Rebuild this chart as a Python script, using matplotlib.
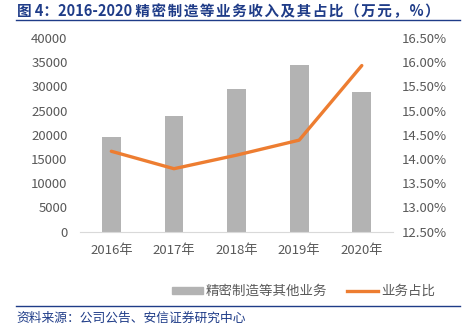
import matplotlib
matplotlib.use("Agg")
import matplotlib.pyplot as plt
import matplotlib.ticker as mtick
from matplotlib.lines import Line2D

plt.rcParams['font.family'] = ['Noto Sans CJK SC', 'DejaVu Sans']

years = ["2016年", "2017年", "2018年", "2019年", "2020年"]
revenue = [19600, 23900, 29400, 34400, 28800]
share = [14.16, 13.80, 14.08, 14.39, 15.93]

grey = "#B3B3B3"
orange = "#ED7D31"
tickc = "#595959"
blue = "#1F3C88"

fig = plt.figure(figsize=(4.68, 3.30), dpi=100)
ax = fig.add_axes([0.171, 0.298, 0.669, 0.587])
ax2 = ax.twinx()

x = range(len(years))
bars = ax.bar(x, revenue, width=0.30, color=grey, zorder=2)
ax.set_xlim(-0.5, len(years) - 0.5)
ax.set_ylim(0, 40000)
ax.set_yticks(range(0, 40001, 5000))
ax.set_xticks(list(x))
ax.set_xticklabels(years)

ax2.plot(list(x), share, color=orange, linewidth=2.4, solid_capstyle='round', zorder=3)
ax2.set_ylim(12.5, 16.5)
ax2.set_yticks([12.5 + 0.5 * i for i in range(9)])
ax2.yaxis.set_major_formatter(mtick.FuncFormatter(lambda v, p: "%.2f%%" % v))

for a in (ax, ax2):
    for s in a.spines.values():
        s.set_visible(False)
    a.tick_params(length=0, labelsize=9.5, colors=tickc)
ax.spines['bottom'].set_visible(True)
ax.spines['bottom'].set_color("#D9D9D9")
ax.tick_params(axis='x', pad=9)
ax.tick_params(axis='y', pad=9)
ax2.tick_params(axis='y', pad=6)

handles = [plt.Rectangle((0, 0), 1, 1, color=grey),
           Line2D([0], [0], color=orange, linewidth=2.4)]
fig.legend(handles, ["精密制造等其他业务", "业务占比"], loc='center',
           bbox_to_anchor=(0.648, 0.118), ncol=2, frameon=False,
           fontsize=9.7, labelcolor=tickc, handlelength=2.3, handleheight=0.45,
           columnspacing=1.5, handletextpad=0.2)

hair = "\u200a"
title_cn = hair.join("精密制造等业务收入及其占比（万元，%）")
fig.text(0.036, 0.965, "图 4：2016-2020 " + title_cn,
         fontsize=10.5, fontweight='bold', color=blue, va='center')
fig.add_artist(Line2D([0.034, 0.983], [0.940, 0.940], color=blue, linewidth=1.0))
fig.add_artist(Line2D([0.034, 0.983], [0.073, 0.073], color=blue, linewidth=1.0))
fig.text(0.036, 0.036, "资料来源：公司公告、安信证券研究中心",
         fontsize=9.2, color=blue, style='italic', va='center')

fig.savefig("out.png", dpi=100)
